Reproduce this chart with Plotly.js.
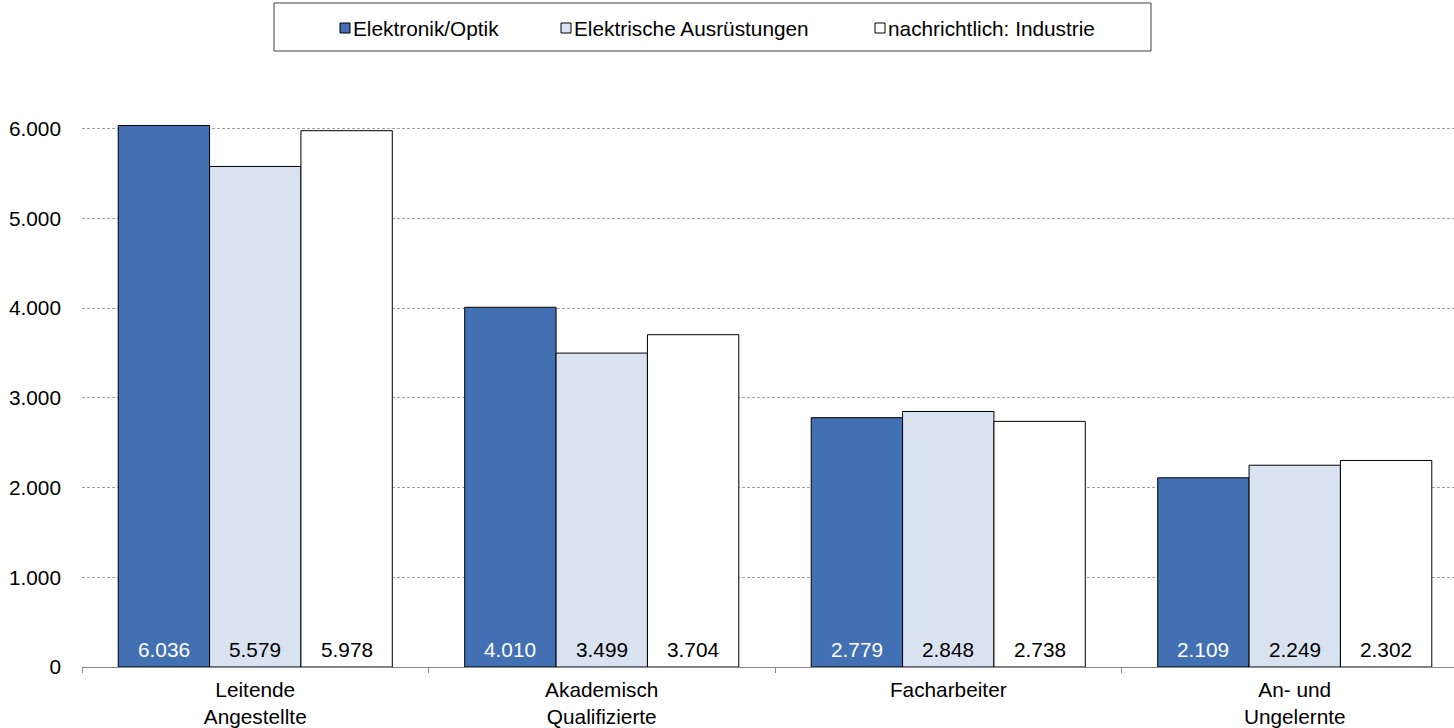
<!DOCTYPE html>
<html>
<head>
<meta charset="utf-8">
<script src="https://cdn.plot.ly/plotly-3.0.1.min.js"></script>
<style>html,body{margin:0;padding:0;background:#fff;}#chart{width:1454px;height:728px;}</style>
</head>
<body>
<div id="chart"></div>
<script>
// ---- data ----
const categories = ['Leitende<br>Angestellte', 'Akademisch<br>Qualifizierte', 'Facharbeiter', 'An- und<br>Ungelernte'];
const seriesNames = ['Elektronik/Optik', 'Elektrische Ausrüstungen', 'nachrichtlich: Industrie'];
const elektronikOptik = [6036, 4010, 2779, 2109];
const elektrischeAusruestungen = [5579, 3499, 2848, 2249];
const industrie = [5978, 3704, 2738, 2302];
const yTickValues = [0, 1000, 2000, 3000, 4000, 5000, 6000];
const yTickLabels = ['0', '1.000', '2.000', '3.000', '4.000', '5.000', '6.000'];

// ---- styles ----
const FONT = 'Liberation Sans, Arial, sans-serif';
const FS = 20.8;
const fills = ['#4370B3', '#D9E2F1', '#FFFFFF'];
const textColors = ['#FFFFFF', '#000000', '#000000'];
const seriesValues = [elektronikOptik, elektrischeAusruestungen, industrie];

// ---- geometry ----
const W = 1454, H = 728;
const M = {l: 82, r: 0, t: 39, b: 61};
const plotW = W - M.l - M.r;
const groupPx = 346.5;            // pixel width of one category slot
const BARGAP = 0.209;
const barPx = groupPx * (1 - BARGAP) / 3;
const px2x = px => (px - M.l) / plotW;
const py2y = py => (H - M.b - py) / (H - M.t - M.b);

const traces = seriesValues.map((vals, i) => ({
  type: 'bar',
  name: seriesNames[i],
  x: categories,
  y: vals,
  marker: {color: fills[i], line: {color: '#000000', width: 1}},
  showlegend: false,
  hoverinfo: 'skip'
}));

const fmt = v => String(v).replace(/\B(?=(\d{3})+(?!\d))/g, '.');

const annotations = [];
seriesValues.forEach((vals, i) => {
  vals.forEach((v, j) => {
    annotations.push({
      xref: 'x', yref: 'y', x: categories[j], y: 0,
      xshift: (i - 1) * barPx, yshift: 4,
      xanchor: 'center', yanchor: 'bottom',
      text: fmt(v), showarrow: false,
      font: {family: FONT, size: FS, color: textColors[i]}
    });
  });
});

const shapes = [
  {type: 'rect', xref: 'paper', yref: 'paper', x0: px2x(274), x1: px2x(1151), y0: py2y(51), y1: py2y(3),
   line: {color: '#404040', width: 1}, fillcolor: 'rgba(0,0,0,0)'}
];
const legendX = [340, 561, 875];
seriesNames.forEach((name, i) => {
  const x = legendX[i];
  shapes.push({type: 'rect', xref: 'paper', yref: 'paper', x0: px2x(x), x1: px2x(x + 10), y0: py2y(33), y1: py2y(23),
    line: {color: '#000000', width: 1}, fillcolor: fills[i]});
  annotations.push({xref: 'paper', yref: 'paper', x: px2x(x + 11), y: py2y(28), text: name, showarrow: false,
    xanchor: 'left', yanchor: 'middle', font: {family: FONT, size: FS, color: '#000000'}});
});

const layout = {
  width: W, height: H,
  margin: M,
  paper_bgcolor: '#FFFFFF', plot_bgcolor: '#FFFFFF',
  font: {family: FONT, size: FS, color: '#000000'},
  separators: ',.',
  barmode: 'group', bargap: BARGAP, bargroupgap: 0,
  showlegend: false,
  xaxis: {
    type: 'category',
    range: [-0.5, -0.5 + plotW / groupPx], autorange: false,
    tickson: 'boundaries', ticks: 'outside', ticklen: 5, tickcolor: '#888888', tickwidth: 1,
    showline: true, linecolor: '#888888', linewidth: 1,
    showgrid: false, zeroline: false,
    ticklabelstandoff: 4,
    tickfont: {family: FONT, size: FS, color: '#000000'}
  },
  yaxis: {
    range: [0, 7000], autorange: false,
    tickvals: yTickValues, ticktext: yTickLabels,
    showgrid: true, gridcolor: '#A0A0A0', gridwidth: 1, griddash: '3px,2px',
    zeroline: false, showline: false, ticks: '',
    ticklabelstandoff: 20,
    tickfont: {family: FONT, size: FS, color: '#000000'}
  },
  shapes: shapes,
  annotations: annotations
};

Plotly.newPlot('chart', traces, layout, {staticPlot: true, displayModeBar: false});
</script>
</body>
</html>
